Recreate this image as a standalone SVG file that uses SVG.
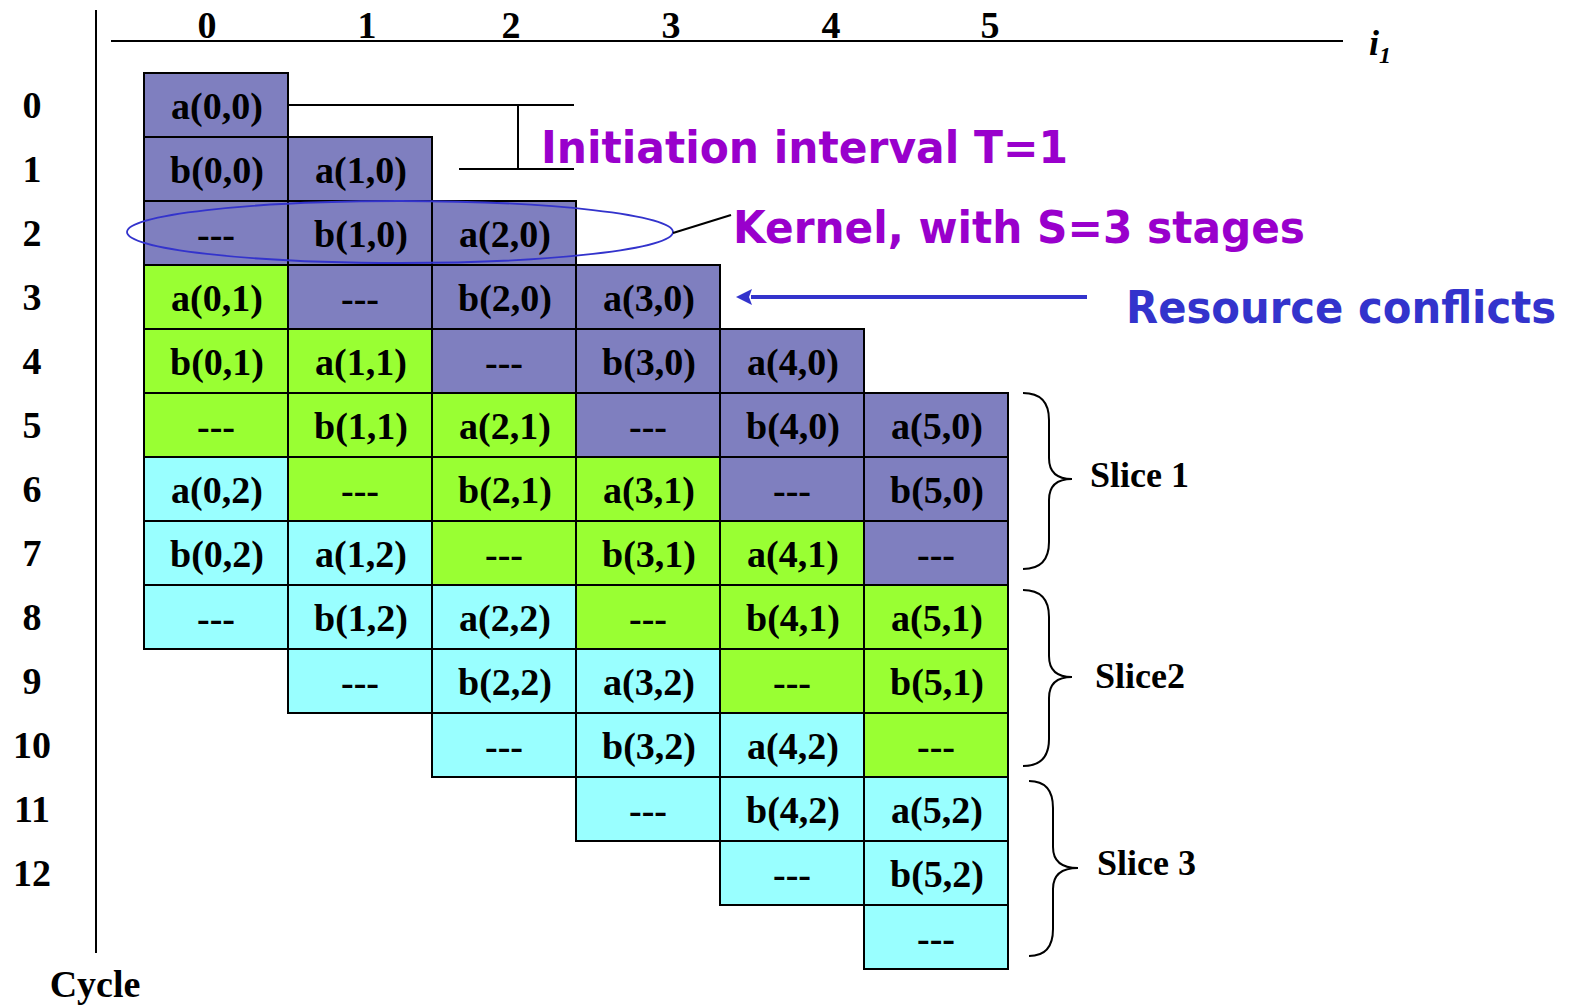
<svg xmlns="http://www.w3.org/2000/svg" width="1570" height="1005" viewBox="0 0 1570 1005">
  <style>
    .cell rect { stroke: #000; stroke-width: 2; }
    .p { fill: #7F7FBF; }
    .g { fill: #99FF33; }
    .c { fill: #99FFFF; }
    .t { font-family: "Liberation Serif", "Times New Roman", serif; font-weight: bold; font-size: 38px; fill: #000; text-anchor: middle; }
    .lbl { font-family: "Liberation Serif", "Times New Roman", serif; font-weight: bold; font-size: 36px; fill: #000; }
    .note { font-family: "DejaVu Sans", Verdana, sans-serif; font-weight: bold; font-size: 44px; }
    .ax { stroke: #000; stroke-width: 2; fill: none; }
    .brace { stroke: #000; stroke-width: 2; fill: none; }
  </style>
  <defs>
    <marker id="arrowBlue" viewBox="0 0 16 16" refX="1" refY="8" markerWidth="16" markerHeight="16" markerUnits="userSpaceOnUse" orient="auto">
      <path d="M0,0 L16,8 L0,16 L3,8 Z" fill="#3333CC"/>
    </marker>
  </defs>

  <!-- axes -->
  <g id="axes">
    <line class="ax" x1="96" y1="10" x2="96" y2="953"/>
    <line class="ax" x1="111" y1="41" x2="1343" y2="41"/>
    <g class="t">
      <text x="207" y="38">0</text>
      <text x="367" y="38">1</text>
      <text x="511" y="38">2</text>
      <text x="671" y="38">3</text>
      <text x="831" y="38">4</text>
      <text x="990" y="38">5</text>
    </g>
    <text x="1369" y="55" font-family="'Liberation Serif', serif" font-weight="bold" font-style="italic" font-size="36">i<tspan font-size="24" dy="8">1</tspan></text>
    <g class="t">
      <text x="32" y="118">0</text>
      <text x="32" y="182">1</text>
      <text x="32" y="246">2</text>
      <text x="32" y="310">3</text>
      <text x="32" y="374">4</text>
      <text x="32" y="438">5</text>
      <text x="32" y="502">6</text>
      <text x="32" y="566">7</text>
      <text x="32" y="630">8</text>
      <text x="32" y="694">9</text>
      <text x="32" y="758">10</text>
      <text x="32" y="822">11</text>
      <text x="32" y="886">12</text>
    </g>
    <text class="t" x="95" y="997">Cycle</text>
  </g>

  <!-- iteration 0 -->
  <g id="iter0" class="cell">
    <rect class="p" x="144" y="73" width="144" height="64"/><text class="t" x="217" y="119">a(0,0)</text>
    <rect class="p" x="144" y="137" width="144" height="64"/><text class="t" x="217" y="183">b(0,0)</text>
    <rect class="p" x="144" y="201" width="144" height="64"/><text class="t" x="216" y="247">---</text>
    <rect class="g" x="144" y="265" width="144" height="64"/><text class="t" x="217" y="311">a(0,1)</text>
    <rect class="g" x="144" y="329" width="144" height="64"/><text class="t" x="217" y="375">b(0,1)</text>
    <rect class="g" x="144" y="393" width="144" height="64"/><text class="t" x="216" y="439">---</text>
    <rect class="c" x="144" y="457" width="144" height="64"/><text class="t" x="217" y="503">a(0,2)</text>
    <rect class="c" x="144" y="521" width="144" height="64"/><text class="t" x="217" y="567">b(0,2)</text>
    <rect class="c" x="144" y="585" width="144" height="64"/><text class="t" x="216" y="631">---</text>
  </g>

  <!-- iteration 1 -->
  <g id="iter1" class="cell">
    <rect class="p" x="288" y="137" width="144" height="64"/><text class="t" x="361" y="183">a(1,0)</text>
    <rect class="p" x="288" y="201" width="144" height="64"/><text class="t" x="361" y="247">b(1,0)</text>
    <rect class="p" x="288" y="265" width="144" height="64"/><text class="t" x="360" y="311">---</text>
    <rect class="g" x="288" y="329" width="144" height="64"/><text class="t" x="361" y="375">a(1,1)</text>
    <rect class="g" x="288" y="393" width="144" height="64"/><text class="t" x="361" y="439">b(1,1)</text>
    <rect class="g" x="288" y="457" width="144" height="64"/><text class="t" x="360" y="503">---</text>
    <rect class="c" x="288" y="521" width="144" height="64"/><text class="t" x="361" y="567">a(1,2)</text>
    <rect class="c" x="288" y="585" width="144" height="64"/><text class="t" x="361" y="631">b(1,2)</text>
    <rect class="c" x="288" y="649" width="144" height="64"/><text class="t" x="360" y="695">---</text>
  </g>

  <!-- iteration 2 -->
  <g id="iter2" class="cell">
    <rect class="p" x="432" y="201" width="144" height="64"/><text class="t" x="505" y="247">a(2,0)</text>
    <rect class="p" x="432" y="265" width="144" height="64"/><text class="t" x="505" y="311">b(2,0)</text>
    <rect class="p" x="432" y="329" width="144" height="64"/><text class="t" x="504" y="375">---</text>
    <rect class="g" x="432" y="393" width="144" height="64"/><text class="t" x="505" y="439">a(2,1)</text>
    <rect class="g" x="432" y="457" width="144" height="64"/><text class="t" x="505" y="503">b(2,1)</text>
    <rect class="g" x="432" y="521" width="144" height="64"/><text class="t" x="504" y="567">---</text>
    <rect class="c" x="432" y="585" width="144" height="64"/><text class="t" x="505" y="631">a(2,2)</text>
    <rect class="c" x="432" y="649" width="144" height="64"/><text class="t" x="505" y="695">b(2,2)</text>
    <rect class="c" x="432" y="713" width="144" height="64"/><text class="t" x="504" y="759">---</text>
  </g>

  <!-- iteration 3 -->
  <g id="iter3" class="cell">
    <rect class="p" x="576" y="265" width="144" height="64"/><text class="t" x="649" y="311">a(3,0)</text>
    <rect class="p" x="576" y="329" width="144" height="64"/><text class="t" x="649" y="375">b(3,0)</text>
    <rect class="p" x="576" y="393" width="144" height="64"/><text class="t" x="648" y="439">---</text>
    <rect class="g" x="576" y="457" width="144" height="64"/><text class="t" x="649" y="503">a(3,1)</text>
    <rect class="g" x="576" y="521" width="144" height="64"/><text class="t" x="649" y="567">b(3,1)</text>
    <rect class="g" x="576" y="585" width="144" height="64"/><text class="t" x="648" y="631">---</text>
    <rect class="c" x="576" y="649" width="144" height="64"/><text class="t" x="649" y="695">a(3,2)</text>
    <rect class="c" x="576" y="713" width="144" height="64"/><text class="t" x="649" y="759">b(3,2)</text>
    <rect class="c" x="576" y="777" width="144" height="64"/><text class="t" x="648" y="823">---</text>
  </g>

  <!-- iteration 4 -->
  <g id="iter4" class="cell">
    <rect class="p" x="720" y="329" width="144" height="64"/><text class="t" x="793" y="375">a(4,0)</text>
    <rect class="p" x="720" y="393" width="144" height="64"/><text class="t" x="793" y="439">b(4,0)</text>
    <rect class="p" x="720" y="457" width="144" height="64"/><text class="t" x="792" y="503">---</text>
    <rect class="g" x="720" y="521" width="144" height="64"/><text class="t" x="793" y="567">a(4,1)</text>
    <rect class="g" x="720" y="585" width="144" height="64"/><text class="t" x="793" y="631">b(4,1)</text>
    <rect class="g" x="720" y="649" width="144" height="64"/><text class="t" x="792" y="695">---</text>
    <rect class="c" x="720" y="713" width="144" height="64"/><text class="t" x="793" y="759">a(4,2)</text>
    <rect class="c" x="720" y="777" width="144" height="64"/><text class="t" x="793" y="823">b(4,2)</text>
    <rect class="c" x="720" y="841" width="144" height="64"/><text class="t" x="792" y="887">---</text>
  </g>

  <!-- iteration 5 -->
  <g id="iter5" class="cell">
    <rect class="p" x="864" y="393" width="144" height="64"/><text class="t" x="937" y="439">a(5,0)</text>
    <rect class="p" x="864" y="457" width="144" height="64"/><text class="t" x="937" y="503">b(5,0)</text>
    <rect class="p" x="864" y="521" width="144" height="64"/><text class="t" x="936" y="567">---</text>
    <rect class="g" x="864" y="585" width="144" height="64"/><text class="t" x="937" y="631">a(5,1)</text>
    <rect class="g" x="864" y="649" width="144" height="64"/><text class="t" x="937" y="695">b(5,1)</text>
    <rect class="g" x="864" y="713" width="144" height="64"/><text class="t" x="936" y="759">---</text>
    <rect class="c" x="864" y="777" width="144" height="64"/><text class="t" x="937" y="823">a(5,2)</text>
    <rect class="c" x="864" y="841" width="144" height="64"/><text class="t" x="937" y="887">b(5,2)</text>
    <rect class="c" x="864" y="905" width="144" height="64"/><text class="t" x="936" y="951">---</text>
  </g>

  <!-- annotations: interval bracket, kernel ellipse, conflict arrow -->
  <g id="connectors">
    <path d="M288,105 H574 M459,169 H574 M518,105 V169" stroke="#000" stroke-width="2" fill="none"/>
    <ellipse cx="400" cy="232" rx="273" ry="31" fill="none" stroke="#3333CC" stroke-width="1.8"/>
    <line x1="673" y1="233" x2="731" y2="215" stroke="#000" stroke-width="2"/>
    <line x1="1087" y1="297" x2="751" y2="297" stroke="#3333CC" stroke-width="4" marker-end="url(#arrowBlue)"/>
  </g>

  <g id="notes">
    <text class="note" x="541" y="163" fill="#9900CC" textLength="527" lengthAdjust="spacingAndGlyphs">Initiation interval T=1</text>
    <text class="note" x="733" y="243" fill="#9900CC" textLength="572" lengthAdjust="spacingAndGlyphs">Kernel, with S=3 stages</text>
    <text class="note" x="1556" y="323" fill="#3333CC" text-anchor="end" textLength="430" lengthAdjust="spacingAndGlyphs">Resource conflicts</text>
  </g>

  <!-- slice braces -->
  <g id="slice1">
    <path class="brace" d="M1023,393 Q1049,393 1049,420 L1049,458 Q1049,479 1072,479 Q1049,479 1049,500 L1049,542 Q1049,569 1023,569"/>
    <text class="lbl" x="1090" y="487">Slice 1</text>
  </g>
  <g id="slice2">
    <path class="brace" d="M1023,590 Q1049,590 1049,617 L1049,656 Q1049,677 1072,677 Q1049,677 1049,698 L1049,739 Q1049,766 1023,766"/>
    <text class="lbl" x="1095" y="688">Slice2</text>
  </g>
  <g id="slice3">
    <path class="brace" d="M1029,781 Q1053,781 1053,808 L1053,847 Q1053,868 1078,868 Q1053,868 1053,889 L1053,929 Q1053,956 1029,956"/>
    <text class="lbl" x="1097" y="875">Slice 3</text>
  </g>
</svg>
